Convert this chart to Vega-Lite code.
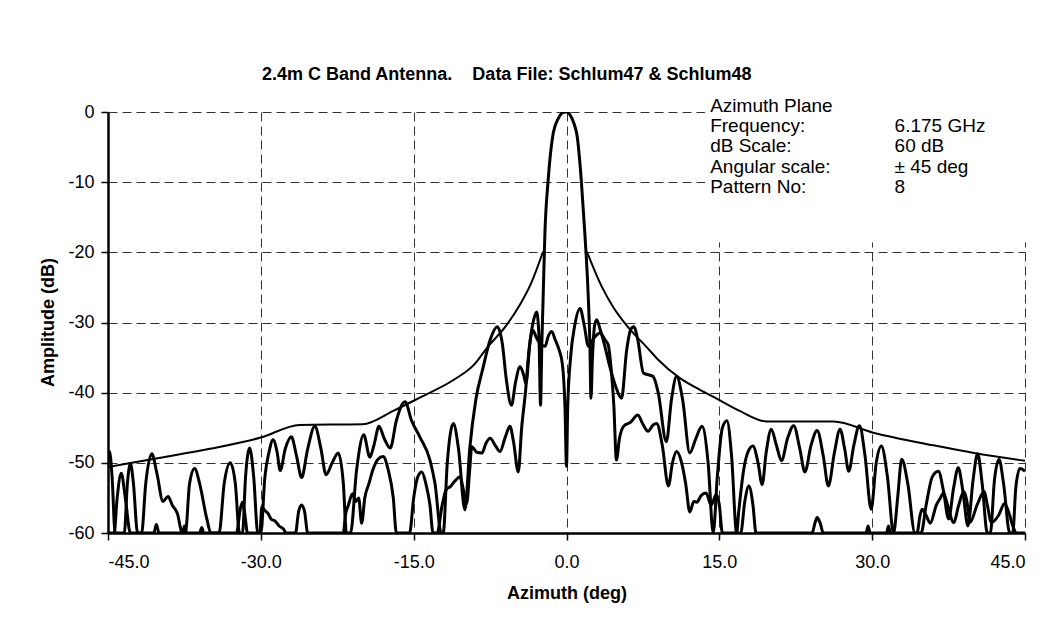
{
  "$schema": "https://vega.github.io/schema/vega-lite/v6.json",
  "width": 917,
  "height": 421,
  "autosize": {"type": "none"},
  "padding": {"left": 108, "top": 112, "right": 30, "bottom": 94},
  "background": "white",
  "title": {
    "text": "2.4m C Band Antenna.\u00a0\u00a0\u00a0 Data File: Schlum47 & Schlum48",
    "anchor": "start", "frame": "group", "dx": 154, "offset": -7, "baseline": "alphabetic",
    "font": "Liberation Sans", "fontSize": 18, "fontWeight": "bold", "color": "black"
  },
  "config": {
    "view": {"stroke": null},
    "axis": {
      "labelFont": "Liberation Sans", "labelFontSize": 18, "labelColor": "black",
      "titleFont": "Liberation Sans", "titleFontSize": 18, "titleFontWeight": "bold", "titleColor": "black",
      "domainColor": "black", "domainWidth": 2.5, "tickColor": "black", "tickWidth": 1.5, "tickSize": 7,
      "grid": true, "gridColor": "#333", "gridDash": [9, 5], "gridWidth": 1
    }
  },
  "datasets": {
    "pattern": [
      {"s":"co","az":-45.0,"db":-49.5},{"s":"co","az":-44.85,"db":-48.4},{"s":"co","az":-44.6,"db":-52},{"s":"co","az":-44.3,"db":-60},
      {"s":"co","az":-43.4,"db":-60},{"s":"co","az":-43.1,"db":-53},{"s":"co","az":-42.8,"db":-50.1},{"s":"co","az":-42.5,"db":-53},
      {"s":"co","az":-42.1,"db":-60},{"s":"co","az":-41.7,"db":-60},{"s":"co","az":-41.3,"db":-53},{"s":"co","az":-40.7,"db":-48.7},
      {"s":"co","az":-40.2,"db":-51.5},{"s":"co","az":-39.6,"db":-55.5},{"s":"co","az":-39.1,"db":-54.8},{"s":"co","az":-38.7,"db":-56},
      {"s":"co","az":-38.2,"db":-57.2},{"s":"co","az":-37.7,"db":-60},{"s":"co","az":-37.4,"db":-60},{"s":"co","az":-37.0,"db":-53},
      {"s":"co","az":-36.5,"db":-50.8},{"s":"co","az":-36.0,"db":-53},{"s":"co","az":-35.3,"db":-58},{"s":"co","az":-34.9,"db":-60},
      {"s":"co","az":-34.1,"db":-60},{"s":"co","az":-33.6,"db":-53},{"s":"co","az":-33.0,"db":-50.0},{"s":"co","az":-32.5,"db":-53},
      {"s":"co","az":-32.1,"db":-60},{"s":"co","az":-31.8,"db":-60},{"s":"co","az":-31.5,"db":-52},{"s":"co","az":-31.1,"db":-47.9},
      {"s":"co","az":-30.7,"db":-52},{"s":"co","az":-30.3,"db":-60},{"s":"co","az":-30.0,"db":-60},{"s":"co","az":-29.6,"db":-52},
      {"s":"co","az":-29.2,"db":-48.5},{"s":"co","az":-28.8,"db":-46.7},{"s":"co","az":-28.4,"db":-48.5},{"s":"co","az":-28.1,"db":-51.1},
      {"s":"co","az":-27.6,"db":-48},{"s":"co","az":-27.0,"db":-46.3},{"s":"co","az":-26.5,"db":-49},{"s":"co","az":-26.0,"db":-52.1},
      {"s":"co","az":-25.4,"db":-48},{"s":"co","az":-24.7,"db":-44.8},{"s":"co","az":-24.1,"db":-48},{"s":"co","az":-23.6,"db":-51.7},
      {"s":"co","az":-23.0,"db":-50},{"s":"co","az":-22.4,"db":-48.6},{"s":"co","az":-21.9,"db":-53},{"s":"co","az":-21.6,"db":-60},
      {"s":"co","az":-21.2,"db":-60},{"s":"co","az":-20.6,"db":-51},{"s":"co","az":-19.9,"db":-46.0},{"s":"co","az":-19.3,"db":-49.2},
      {"s":"co","az":-18.9,"db":-47.5},{"s":"co","az":-18.4,"db":-44.8},{"s":"co","az":-17.9,"db":-46.5},{"s":"co","az":-17.3,"db":-47.9},
      {"s":"co","az":-16.7,"db":-44},{"s":"co","az":-15.85,"db":-41.3},{"s":"co","az":-15.2,"db":-44},{"s":"co","az":-14.4,"db":-46.3},
      {"s":"co","az":-13.4,"db":-49.6},{"s":"co","az":-12.9,"db":-53},{"s":"co","az":-12.3,"db":-60},{"s":"co","az":-12.1,"db":-60},
      {"s":"co","az":-11.7,"db":-50},{"s":"co","az":-11.1,"db":-44.4},{"s":"co","az":-10.6,"db":-48},{"s":"co","az":-9.97,"db":-56.7},
      {"s":"co","az":-9.5,"db":-48},{"s":"co","az":-8.9,"db":-41},{"s":"co","az":-8.2,"db":-36.5},{"s":"co","az":-7.5,"db":-32.5},
      {"s":"co","az":-6.8,"db":-30.6},{"s":"co","az":-6.3,"db":-33},{"s":"co","az":-5.9,"db":-38.2},{"s":"co","az":-5.4,"db":-41.8},
      {"s":"co","az":-5.0,"db":-38.5},{"s":"co","az":-4.56,"db":-36.3},{"s":"co","az":-4.2,"db":-37.5},{"s":"co","az":-3.98,"db":-38.7},
      {"s":"co","az":-3.6,"db":-33},{"s":"co","az":-3.2,"db":-29.5},{"s":"co","az":-2.93,"db":-28.5},{"s":"co","az":-2.7,"db":-32},
      {"s":"co","az":-2.55,"db":-41.8},{"s":"co","az":-2.42,"db":-33},{"s":"co","az":-2.3,"db":-26.8},{"s":"co","az":-2.12,"db":-17.3},
      {"s":"co","az":-1.8,"db":-9.7},{"s":"co","az":-1.3,"db":-3.0},{"s":"co","az":-0.8,"db":-0.9},{"s":"co","az":-0.3,"db":-0.05},
      {"s":"co","az":0.0,"db":0},{"s":"co","az":0.3,"db":-0.3},{"s":"co","az":0.7,"db":-1.5},{"s":"co","az":1.05,"db":-3.5},
      {"s":"co","az":1.45,"db":-9.7},{"s":"co","az":1.8,"db":-17.3},{"s":"co","az":2.15,"db":-26.8},{"s":"co","az":2.3,"db":-33.4},
      {"s":"co","az":2.4,"db":-40.8},{"s":"co","az":2.55,"db":-35},{"s":"co","az":2.75,"db":-30.5},{"s":"co","az":2.96,"db":-29.6},
      {"s":"co","az":3.3,"db":-31},{"s":"co","az":3.7,"db":-33},{"s":"co","az":4.2,"db":-36},{"s":"co","az":4.8,"db":-39},
      {"s":"co","az":5.4,"db":-40.8},{"s":"co","az":5.9,"db":-34},{"s":"co","az":6.3,"db":-31},{"s":"co","az":6.6,"db":-30.6},
      {"s":"co","az":7.0,"db":-32.5},{"s":"co","az":7.55,"db":-37.2},{"s":"co","az":8.5,"db":-37.7},{"s":"co","az":9.0,"db":-40},
      {"s":"co","az":9.8,"db":-47.0},{"s":"co","az":10.3,"db":-41},{"s":"co","az":10.8,"db":-37.7},{"s":"co","az":11.4,"db":-41},
      {"s":"co","az":12.1,"db":-48.6},{"s":"co","az":12.7,"db":-46.5},{"s":"co","az":13.3,"db":-44.8},{"s":"co","az":13.9,"db":-50},
      {"s":"co","az":14.4,"db":-60},{"s":"co","az":14.8,"db":-52},{"s":"co","az":15.3,"db":-45},{"s":"co","az":15.75,"db":-44.0},
      {"s":"co","az":16.2,"db":-49},{"s":"co","az":16.7,"db":-60},{"s":"co","az":16.9,"db":-57},{"s":"co","az":17.4,"db":-50.9},
      {"s":"co","az":17.8,"db":-48.5},{"s":"co","az":18.3,"db":-47.6},{"s":"co","az":18.8,"db":-50},{"s":"co","az":19.2,"db":-53.1},
      {"s":"co","az":19.6,"db":-48.5},{"s":"co","az":20.1,"db":-45.2},{"s":"co","az":20.6,"db":-47.5},{"s":"co","az":21.1,"db":-49.7},
      {"s":"co","az":21.7,"db":-46.5},{"s":"co","az":22.3,"db":-44.7},{"s":"co","az":22.9,"db":-48},{"s":"co","az":23.4,"db":-51.3},
      {"s":"co","az":24.0,"db":-47.5},{"s":"co","az":24.6,"db":-45.4},{"s":"co","az":25.2,"db":-49},{"s":"co","az":25.7,"db":-53.3},
      {"s":"co","az":26.3,"db":-48.5},{"s":"co","az":26.85,"db":-45.2},{"s":"co","az":27.3,"db":-48},{"s":"co","az":27.7,"db":-51.2},
      {"s":"co","az":28.2,"db":-47.5},{"s":"co","az":28.75,"db":-44.7},{"s":"co","az":29.3,"db":-49},{"s":"co","az":29.9,"db":-56.6},
      {"s":"co","az":30.4,"db":-50},{"s":"co","az":30.9,"db":-47.6},{"s":"co","az":31.5,"db":-52},{"s":"co","az":32.1,"db":-60},
      {"s":"co","az":32.5,"db":-55},{"s":"co","az":32.9,"db":-49.5},{"s":"co","az":33.5,"db":-53},{"s":"co","az":34.2,"db":-60},
      {"s":"co","az":34.8,"db":-60},{"s":"co","az":35.3,"db":-56},{"s":"co","az":35.9,"db":-52},{"s":"co","az":36.5,"db":-51.2},
      {"s":"co","az":37.0,"db":-54},{"s":"co","az":37.5,"db":-58},{"s":"co","az":38.0,"db":-53.5},{"s":"co","az":38.45,"db":-50.7},
      {"s":"co","az":38.9,"db":-54},{"s":"co","az":39.4,"db":-59},{"s":"co","az":39.9,"db":-52.5},{"s":"co","az":40.35,"db":-48.7},
      {"s":"co","az":40.8,"db":-53},{"s":"co","az":41.3,"db":-60},{"s":"co","az":41.6,"db":-60},{"s":"co","az":42.0,"db":-52.5},
      {"s":"co","az":42.45,"db":-49.5},{"s":"co","az":42.9,"db":-53},{"s":"co","az":43.5,"db":-60},{"s":"co","az":43.8,"db":-60},
      {"s":"co","az":44.1,"db":-53.5},{"s":"co","az":44.5,"db":-50.8},{"s":"co","az":45.0,"db":-51.2},

      {"s":"xp","az":-45.0,"db":-60},{"s":"xp","az":-44.4,"db":-60},{"s":"xp","az":-44.1,"db":-55},{"s":"xp","az":-43.7,"db":-51.5},
      {"s":"xp","az":-43.3,"db":-55},{"s":"xp","az":-42.8,"db":-60},{"s":"xp","az":-40.5,"db":-60},{"s":"xp","az":-40.25,"db":-58.8},
      {"s":"xp","az":-40.0,"db":-60},{"s":"xp","az":-37.7,"db":-60},{"s":"xp","az":-37.5,"db":-59},{"s":"xp","az":-37.3,"db":-60},
      {"s":"xp","az":-36.0,"db":-60},{"s":"xp","az":-35.8,"db":-59.2},{"s":"xp","az":-35.6,"db":-60},{"s":"xp","az":-32.4,"db":-60},
      {"s":"xp","az":-32.0,"db":-56.5},{"s":"xp","az":-31.8,"db":-55.6},{"s":"xp","az":-31.6,"db":-57},{"s":"xp","az":-31.3,"db":-60},
      {"s":"xp","az":-30.1,"db":-60},{"s":"xp","az":-29.9,"db":-56.3},{"s":"xp","az":-29.6,"db":-56.8},{"s":"xp","az":-29.3,"db":-57.2},
      {"s":"xp","az":-29.0,"db":-58},{"s":"xp","az":-28.6,"db":-58.3},{"s":"xp","az":-28.2,"db":-59},{"s":"xp","az":-27.8,"db":-59.4},
      {"s":"xp","az":-27.5,"db":-60},{"s":"xp","az":-26.6,"db":-60},{"s":"xp","az":-26.3,"db":-57},{"s":"xp","az":-26.0,"db":-56.0},
      {"s":"xp","az":-25.7,"db":-57},{"s":"xp","az":-25.4,"db":-60},{"s":"xp","az":-21.9,"db":-60},{"s":"xp","az":-21.7,"db":-57.5},
      {"s":"xp","az":-21.4,"db":-56},{"s":"xp","az":-21.0,"db":-54.4},{"s":"xp","az":-20.7,"db":-55.5},{"s":"xp","az":-20.4,"db":-55},
      {"s":"xp","az":-20.1,"db":-58.6},{"s":"xp","az":-19.8,"db":-55},{"s":"xp","az":-19.4,"db":-53},{"s":"xp","az":-19.0,"db":-51},
      {"s":"xp","az":-18.5,"db":-49.5},{"s":"xp","az":-18.0,"db":-49.1},{"s":"xp","az":-17.5,"db":-51},{"s":"xp","az":-17.0,"db":-55},
      {"s":"xp","az":-16.7,"db":-60},{"s":"xp","az":-15.4,"db":-60},{"s":"xp","az":-15.0,"db":-55},{"s":"xp","az":-14.6,"db":-52},
      {"s":"xp","az":-14.2,"db":-51.3},{"s":"xp","az":-13.8,"db":-53},{"s":"xp","az":-13.4,"db":-56},{"s":"xp","az":-13.1,"db":-60},
      {"s":"xp","az":-12.7,"db":-60},{"s":"xp","az":-12.2,"db":-56},{"s":"xp","az":-11.8,"db":-53.8},{"s":"xp","az":-11.4,"db":-53.4},
      {"s":"xp","az":-10.9,"db":-52.5},{"s":"xp","az":-10.45,"db":-52.0},{"s":"xp","az":-10.1,"db":-54},{"s":"xp","az":-9.8,"db":-55.8},
      {"s":"xp","az":-9.5,"db":-51},{"s":"xp","az":-9.3,"db":-47.7},{"s":"xp","az":-8.8,"db":-48.5},{"s":"xp","az":-8.3,"db":-48.6},
      {"s":"xp","az":-7.9,"db":-47.2},{"s":"xp","az":-7.5,"db":-46.5},{"s":"xp","az":-7.0,"db":-47.5},{"s":"xp","az":-6.53,"db":-48.4},
      {"s":"xp","az":-6.0,"db":-46.3},{"s":"xp","az":-5.55,"db":-44.8},{"s":"xp","az":-5.2,"db":-47},{"s":"xp","az":-4.73,"db":-51.3},
      {"s":"xp","az":-4.4,"db":-45},{"s":"xp","az":-4.0,"db":-39.5},{"s":"xp","az":-3.75,"db":-35},{"s":"xp","az":-3.5,"db":-32},
      {"s":"xp","az":-3.3,"db":-31.1},{"s":"xp","az":-3.0,"db":-32},{"s":"xp","az":-2.6,"db":-33},{"s":"xp","az":-2.1,"db":-33.4},
      {"s":"xp","az":-1.8,"db":-32},{"s":"xp","az":-1.45,"db":-31.3},{"s":"xp","az":-1.1,"db":-32.5},{"s":"xp","az":-0.75,"db":-33.8},
      {"s":"xp","az":-0.4,"db":-36},{"s":"xp","az":-0.15,"db":-42},{"s":"xp","az":0.0,"db":-50.5},{"s":"xp","az":0.12,"db":-42},
      {"s":"xp","az":0.4,"db":-35},{"s":"xp","az":0.8,"db":-30.5},{"s":"xp","az":1.33,"db":-28.0},{"s":"xp","az":1.75,"db":-30.5},
      {"s":"xp","az":2.15,"db":-33.4},{"s":"xp","az":2.7,"db":-32.2},{"s":"xp","az":3.3,"db":-31.5},{"s":"xp","az":3.8,"db":-32.5},
      {"s":"xp","az":4.1,"db":-33.2},{"s":"xp","az":4.35,"db":-36.1},{"s":"xp","az":4.65,"db":-42},{"s":"xp","az":4.9,"db":-49.6},
      {"s":"xp","az":5.2,"db":-46.5},{"s":"xp","az":5.6,"db":-44.8},{"s":"xp","az":6.3,"db":-44.2},{"s":"xp","az":7.0,"db":-43.2},
      {"s":"xp","az":7.5,"db":-44.5},{"s":"xp","az":8.0,"db":-45.5},{"s":"xp","az":8.5,"db":-44.6},{"s":"xp","az":8.85,"db":-44.4},
      {"s":"xp","az":9.4,"db":-47.5},{"s":"xp","az":10.0,"db":-53.3},{"s":"xp","az":10.4,"db":-50},{"s":"xp","az":10.8,"db":-48.4},
      {"s":"xp","az":11.3,"db":-50},{"s":"xp","az":11.7,"db":-53},{"s":"xp","az":12.1,"db":-57},{"s":"xp","az":12.5,"db":-55.5},
      {"s":"xp","az":12.8,"db":-55.6},{"s":"xp","az":13.2,"db":-54.7},{"s":"xp","az":13.7,"db":-54.3},{"s":"xp","az":14.2,"db":-56},
      {"s":"xp","az":14.7,"db":-54.5},{"s":"xp","az":15.0,"db":-56},{"s":"xp","az":15.3,"db":-60},{"s":"xp","az":17.1,"db":-60},
      {"s":"xp","az":17.5,"db":-55.5},{"s":"xp","az":17.9,"db":-53.3},{"s":"xp","az":18.3,"db":-56},{"s":"xp","az":18.6,"db":-60},
      {"s":"xp","az":24.1,"db":-60},{"s":"xp","az":24.4,"db":-58.5},{"s":"xp","az":24.6,"db":-57.8},{"s":"xp","az":24.9,"db":-58.6},
      {"s":"xp","az":25.2,"db":-60},{"s":"xp","az":29.4,"db":-60},{"s":"xp","az":29.6,"db":-59},{"s":"xp","az":29.8,"db":-60},
      {"s":"xp","az":31.4,"db":-60},{"s":"xp","az":31.6,"db":-59},{"s":"xp","az":31.8,"db":-60},{"s":"xp","az":34.4,"db":-60},
      {"s":"xp","az":34.7,"db":-57.5},{"s":"xp","az":34.9,"db":-56.6},{"s":"xp","az":35.3,"db":-57.5},{"s":"xp","az":35.7,"db":-58.6},
      {"s":"xp","az":36.3,"db":-56},{"s":"xp","az":36.7,"db":-55},{"s":"xp","az":37.0,"db":-54.3},{"s":"xp","az":37.4,"db":-56},
      {"s":"xp","az":38.0,"db":-58.5},{"s":"xp","az":38.5,"db":-56},{"s":"xp","az":39.0,"db":-54.1},{"s":"xp","az":39.3,"db":-55.5},
      {"s":"xp","az":39.6,"db":-58.5},{"s":"xp","az":40.3,"db":-56},{"s":"xp","az":41.0,"db":-54.1},{"s":"xp","az":41.3,"db":-56},
      {"s":"xp","az":41.7,"db":-58.5},{"s":"xp","az":42.4,"db":-57.5},{"s":"xp","az":43.0,"db":-55.8},{"s":"xp","az":43.5,"db":-57.5},
      {"s":"xp","az":43.8,"db":-59},{"s":"xp","az":44.2,"db":-60},{"s":"xp","az":45.0,"db":-60},

      {"s":"envL","az":-45,"db":-50.6},{"s":"envL","az":-40,"db":-49.3},{"s":"envL","az":-35,"db":-48.0},{"s":"envL","az":-30,"db":-46.4},
      {"s":"envL","az":-26.2,"db":-44.6},{"s":"envL","az":-20.0,"db":-44.5},{"s":"envL","az":-17.0,"db":-42.6},{"s":"envL","az":-14.4,"db":-40.7},
      {"s":"envL","az":-11.1,"db":-38.2},{"s":"envL","az":-9.0,"db":-35.9},{"s":"envL","az":-7.8,"db":-33.6},{"s":"envL","az":-6.0,"db":-30.6},
      {"s":"envL","az":-4.5,"db":-27.3},{"s":"envL","az":-3.5,"db":-24.5},{"s":"envL","az":-2.3,"db":-19.9},
      {"s":"envR","az":2.0,"db":-19.9},{"s":"envR","az":3.5,"db":-25.0},{"s":"envR","az":4.5,"db":-27.6},{"s":"envR","az":6.0,"db":-30.6},
      {"s":"envR","az":7.8,"db":-33.4},{"s":"envR","az":9.0,"db":-35.3},{"s":"envR","az":11.1,"db":-37.9},{"s":"envR","az":13.1,"db":-39.6},
      {"s":"envR","az":14.7,"db":-40.8},{"s":"envR","az":17.0,"db":-42.6},{"s":"envR","az":19.65,"db":-44.1},{"s":"envR","az":26.2,"db":-44.1},
      {"s":"envR","az":30.1,"db":-45.7},{"s":"envR","az":36.0,"db":-47.5},{"s":"envR","az":40.0,"db":-48.6},{"s":"envR","az":45.0,"db":-49.7}
    ]
  },
  "layer": [
    {
      "data": {"values": [{}]},
      "mark": {"type": "rect", "fill": "white", "clip": false},
      "encoding": {
        "x": {"datum": 13.6, "type": "quantitative", "scale": {"domain": [-45, 45], "nice": false, "zero": false}},
        "x2": {"datum": 46},
        "y": {"datum": 3, "type": "quantitative", "scale": {"domain": [-60, 0], "nice": false, "zero": false}},
        "y2": {"datum": -18.6}
      }
    },
    {
      "data": {"name": "pattern"},
      "transform": [{"filter": "datum.s === 'envL' || datum.s === 'envR'"}],
      "mark": {"type": "line", "color": "black", "strokeWidth": 2, "interpolate": "monotone", "clip": true},
      "encoding": {
        "x": {"field": "az", "type": "quantitative", "scale": {"domain": [-45, 45], "nice": false, "zero": false},
          "axis": {"values": [-45, -30, -15, 0, 15, 30, 45], "labelExpr": "(datum.value < 0 ? '-' : '') + format(abs(datum.value), '.1f')",
            "labelPadding": 13, "title": "Azimuth (deg)", "titleY": 60, "titleBaseline": "middle"}},
        "y": {"field": "db", "type": "quantitative", "scale": {"domain": [-60, 0], "nice": false, "zero": false},
          "axis": {"values": [0, -10, -20, -30, -40, -50, -60], "labelExpr": "(datum.value < 0 ? '-' : '') + format(abs(datum.value), 'd')",
            "labelPadding": 7, "title": "Amplitude (dB)", "titleX": -60, "titleY": 210, "titleBaseline": "middle", "titleAlign": "center", "titleAngle": -90}},
        "detail": {"field": "s"}
      }
    },
    {
      "data": {"name": "pattern"},
      "transform": [{"filter": "datum.s === 'co' || datum.s === 'xp'"}],
      "mark": {"type": "line", "color": "black", "strokeWidth": 3, "strokeJoin": "round", "interpolate": "monotone", "clip": true},
      "encoding": {
        "x": {"field": "az", "type": "quantitative", "scale": {"domain": [-45, 45], "nice": false, "zero": false}},
        "y": {"field": "db", "type": "quantitative", "scale": {"domain": [-60, 0], "nice": false, "zero": false}},
        "detail": {"field": "s"}
      }
    },
    {
      "data": {"values": [{}]},
      "mark": {"type": "text", "align": "left", "baseline": "alphabetic", "font": "Liberation Sans", "fontSize": 19, "lineHeight": 20.2, "color": "black", "clip": false,
        "text": ["Azimuth Plane", "Frequency:", "dB Scale:", "Angular scale:", "Pattern No:"]},
      "encoding": {
        "x": {"datum": 14.1, "type": "quantitative"},
        "y": {"datum": 0, "type": "quantitative"}
      }
    },
    {
      "data": {"values": [{}]},
      "mark": {"type": "text", "align": "left", "baseline": "alphabetic", "font": "Liberation Sans", "fontSize": 19, "lineHeight": 20.2, "color": "black", "clip": false,
        "text": [" ", "6.175 GHz", "60 dB", "\u00b1 45 deg", "8"]},
      "encoding": {
        "x": {"datum": 32.2, "type": "quantitative"},
        "y": {"datum": 0, "type": "quantitative"}
      }
    }
  ]
}
